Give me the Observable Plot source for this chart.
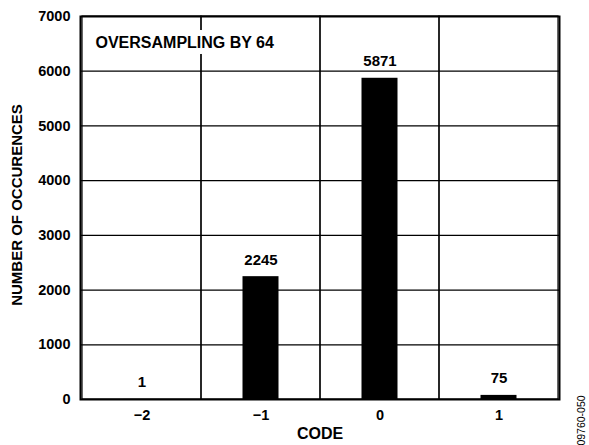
<!DOCTYPE html>
<html>
<head>
<meta charset="utf-8">
<script src="https://cdn.jsdelivr.net/npm/d3@7"></script>
<script src="https://cdn.jsdelivr.net/npm/@observablehq/plot@0.6"></script>
<style>
  body { margin: 0; background: #fff; }
  #chart { position: relative; width: 589px; height: 445px; }
  svg { font-family: "Liberation Sans", Arial, Helvetica, sans-serif; }
</style>
</head>
<body>
<div id="chart"></div>
<script>
const codes = ["\u22122", "\u22121", "0", "1"];
const counts = [1, 2245, 5871, 75];
const yTicks = [0, 1000, 2000, 3000, 4000, 5000, 6000, 7000];
const annotation = "OVERSAMPLING BY 64";
const figureId = "09760-050";

const data = codes.map((c, i) => ({code: c, count: counts[i]}));
const cells = codes.map(c => ({code: c}));

const chart = Plot.plot({
  width: 589,
  height: 445,
  marginLeft: 80,
  marginRight: 30,
  marginTop: 16,
  marginBottom: 46,
  style: {fontFamily: "'Liberation Sans', Arial, sans-serif", fontSize: "14px", fontWeight: "bold", color: "#000", background: "#fff"},
  x: {type: "band", domain: codes, padding: 0, label: null},
  y: {domain: [0, 7000], label: null},
  marks: [
    Plot.ruleY(yTicks, {stroke: "#000", strokeWidth: 1.2}),
    Plot.barY(cells, {x: "code", y1: 0, y2: 7000, fill: "none", stroke: "#000", strokeWidth: 1.2}),
    Plot.barY(data, {x: "code", y: "count", fill: "#000", insetLeft: 41.5, insetRight: 41.5}),
    Plot.text(data, {x: "code", y: "count", text: d => String(d.count), lineAnchor: "bottom", dy: -12, fontSize: 15, fontWeight: "bold", fill: "#000"}),
    Plot.text([annotation], {frameAnchor: "top-left", dx: 15, dy: 26, lineAnchor: "middle", textAnchor: "start", fontSize: 16, fontWeight: "bold", fill: "#000", stroke: "#fff", strokeWidth: 12}),
    Plot.frame({stroke: "#000", strokeWidth: 2}),
    Plot.axisY(yTicks, {tickSize: 0, tickPadding: 10, fontSize: 14.5, fontWeight: "bold", label: null, tickFormat: d => String(d)}),
    Plot.axisX({tickSize: 0, tickPadding: 10, fontSize: 14.5, fontWeight: "bold", label: null}),
    Plot.text(["NUMBER OF OCCURENCES"], {frameAnchor: "left", dx: -63, dy: -3, rotate: -90, textAnchor: "middle", fontSize: 15, fontWeight: "bold", fill: "#000"}),
    Plot.text(["CODE"], {frameAnchor: "bottom", dy: 39, fontSize: 16, fontWeight: "bold", fill: "#000"}),
    Plot.text([figureId], {frameAnchor: "bottom-right", dx: 25, dy: 21, rotate: -90, textAnchor: "middle", fontSize: 10.5, fontWeight: "normal", fill: "#000"})
  ]
});
document.getElementById("chart").appendChild(chart);
</script>
</body>
</html>
